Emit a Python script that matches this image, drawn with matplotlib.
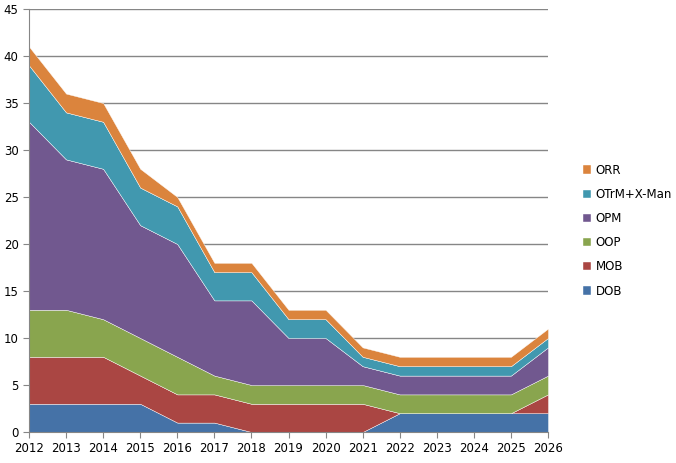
import numpy as np
import matplotlib.pyplot as plt

years = list(range(2012, 2027))
dob = [3, 3, 3, 3, 1, 1, 0, 0, 0, 0, 2, 2, 2, 2, 2]
mob = [5, 5, 5, 3, 3, 3, 3, 3, 3, 3, 0, 0, 0, 0, 2]
oop = [5, 5, 4, 4, 4, 2, 2, 2, 2, 2, 2, 2, 2, 2, 2]
opm = [20, 16, 16, 12, 12, 8, 9, 5, 5, 2, 2, 2, 2, 2, 3]
otrm = [6, 5, 5, 4, 4, 3, 3, 2, 2, 1, 1, 1, 1, 1, 1]
orr = [2, 2, 2, 2, 1, 1, 1, 1, 1, 1, 1, 1, 1, 1, 1]

labels = ['DOB', 'MOB', 'OOP', 'OPM', 'OTrM+X-Man', 'ORR']
colors = ['#4572A7', '#AA4643', '#89A54E', '#71588F', '#4198AF', '#DB843D']

fig = plt.figure(figsize=(6.76, 4.63), dpi=100)
ax = fig.add_axes([29/676, 31/463, 519/676, 423/463])

ax.stackplot(years, dob, mob, oop, opm, otrm, orr, labels=labels, colors=colors,
             edgecolor='white', linewidth=0.3)

ax.set_xlim(2012, 2026)
ax.set_ylim(0, 45)
ax.set_xticks(years)
ax.set_yticks(range(0, 46, 5))
ax.grid(axis='y', color='#868686', linewidth=1)
ax.set_axisbelow(True)
for s in ['top', 'right']:
    ax.spines[s].set_visible(False)
for s in ['left', 'bottom']:
    ax.spines[s].set_color('#868686')
ax.tick_params(axis='both', colors='#868686', labelcolor='black', labelsize=8.5, length=4)

h, l = ax.get_legend_handles_labels()
leg = fig.legend(h[::-1], l[::-1], loc='upper left', bbox_to_anchor=(572/676, 1 - 153/463),
                 frameon=False, fontsize=8.5, handlelength=0.7, handleheight=0.7,
                 handletextpad=0.4, labelspacing=0.95)

fig.savefig('out.png', dpi=100)
